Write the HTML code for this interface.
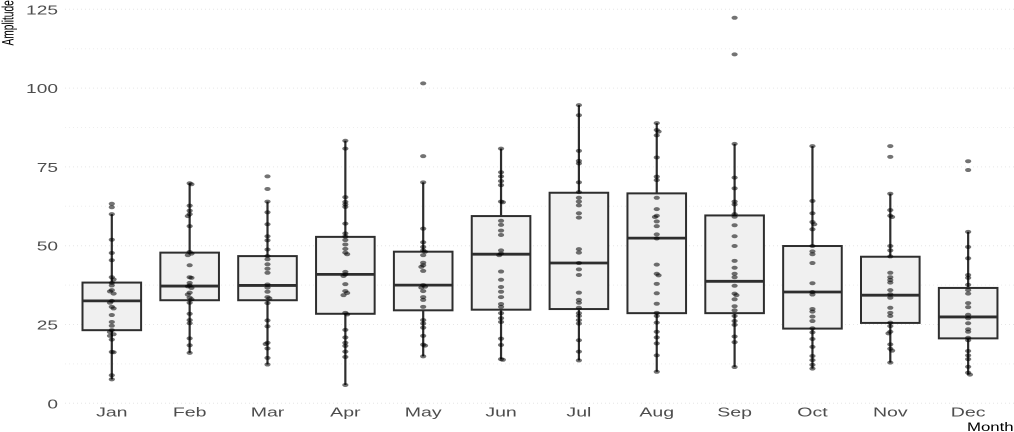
<!DOCTYPE html>
<html>
<head>
<meta charset="utf-8">
<title>Monthly Amplitude Boxplot</title>
<style>
html,body{margin:0;padding:0;background:#fff;width:1014px;height:432px;overflow:hidden}
svg{display:block;filter:blur(0.3px)}
text{font-family:"Liberation Sans",sans-serif}
</style>
</head>
<body>
<svg id="chart" width="1014" height="432" viewBox="0 0 1014 432" xmlns="http://www.w3.org/2000/svg">
<g id="grid"></g>
<g id="yticks"></g>
<g id="xticks"></g>
<g id="boxes"></g>
<g id="points"></g>
<text transform="translate(13.5,45.5) rotate(-90) scale(0.6,1)" font-size="17" fill="#000">Amplitude</text>
<text transform="translate(967,431) scale(1.4,1)" font-size="12" fill="#000">Month</text>
</svg>
<script>
const months = ["Jan","Feb","Mar","Apr","May","Jun","Jul","Aug","Sep","Oct","Nov","Dec"];
const yTicks = [0,25,50,75,100,125];
const yMinorTicks = [12.5,37.5,62.5,87.5,112.5];
const q1 = [23.2,32.7,32.7,28.4,29.5,29.7,29.9,28.6,28.6,23.7,25.5,20.6];
const medians = [32.5,37.2,37.4,40.9,37.5,47.3,44.5,52.4,38.7,35.3,34.3,27.4];
const q3 = [38.3,47.8,46.7,52.8,48.1,59.4,66.8,66.6,59.6,49.9,46.5,36.6];
const whiskerLow = [7.6,16,12.3,5.8,14.9,14,13.6,10,11.5,11,12.9,9.1];
const whiskerHigh = [60,69.8,64,83.3,70.1,80.8,94.6,88.9,82.3,81.6,66.5,54.4];
const janValues = [63.3,62.2,60,51.9,47.7,45.4,40,39.3,38.2,37.4,35.9,35.5,34.8,32.5,31.9,30.6,30.1,28,25.8,24.6,23.2,22.6,21.9,21.4,20.2,16.3,16.2,8.9,7.6];
const febValues = [69.8,69.5,62.7,61.1,60,59.4,56.2,48,47.5,47,43.8,40,39.8,38.2,37.4,37.1,36.6,35.1,34.5,33.5,33,31.9,28.4,26.4,25.4,20.6,18.4,16];
const marValues = [72,68,64,60.6,56.8,53,51.7,48.8,46.7,45.7,44.1,42.7,41.4,37.7,36.7,35.4,33.7,33.3,31.8,26.3,24.4,19.2,18.8,17.4,14.4,12.3];
const aprValues = [83.3,80.8,65.4,63.9,63.1,62.3,57,53.9,52.9,51.8,50.4,49,47.8,47.3,41.7,40.9,40.4,37.8,35.6,35,34.3,28.7,28.2,23.3,20.9,19.2,18.2,16.4,14.7,5.8];
const mayValues = [101.5,78.4,70.1,55.4,51.1,49.6,48.5,48.1,47,44.6,43.8,43.3,42,37.5,37,36.7,35.6,33.7,32.8,30.6,26.4,25.3,24,21.4,18.6,18.3,14.9];
const junValues = [80.8,73.3,72,70.5,69.2,64,63.8,57.9,56.6,54.8,53.4,48.5,47.5,47,41.8,39.2,36.9,35.4,33.7,31.5,30.6,28.6,27,25.8,20.5,18.5,14,13.8];
const julValues = [94.6,91.4,80.1,76.9,76.1,70.1,67,65.2,64,62.8,60.3,58.9,48.9,47.8,44.5,42.5,40.7,35.1,32.8,31.9,30.3,28.6,27.7,26.4,25.3,20,16.4,13.6];
const augValues = [88.9,86.7,86.2,85,78,71.9,70.8,65.2,61.6,59.5,59.1,57.7,56.2,53.6,52.3,44,41.1,40.6,37.9,34.9,31.6,28.7,27.7,25.6,22.7,20.9,19,15.2,10];
const sepValues = [122.3,110.7,82.3,71.6,68.2,64,63.1,60,59.2,56.5,53,49.9,45.2,43,41.1,40,37.3,34.8,34.3,33,30.8,29.5,27.7,26.1,24.9,21.2,19.4,11.5];
const octValues = [81.6,64.2,60.3,57.5,56.8,55.2,49.9,48.2,47.3,44.5,38.1,35.3,34.5,29.9,29.1,27.5,26.1,23.8,22.5,20.4,17.9,15,13.7,12.2,11];
const novValues = [81.6,78.2,66.5,61.3,59.5,59.1,49.9,48.5,46.6,41.4,40,39.1,38.3,35.9,34.6,33.5,30.3,28.7,27.7,25.6,24.5,22.7,22.2,18.7,17.3,16.7,12.9];
const decValues = [76.8,74,54.4,49.6,46,40.7,39.8,37.6,35.9,34.8,31.8,30.5,28.1,27,25.4,23.5,22.7,20.8,20,16.6,15.2,14,11.6,9.7,9.1];
const monthValues = [janValues,febValues,marValues,aprValues,mayValues,junValues,julValues,augValues,sepValues,octValues,novValues,decValues];

const NS = "http://www.w3.org/2000/svg";
const xScale = i => 111.8 + 77.85 * i;
const yScale = v => 403.3 - 3.152 * v;
const BOX_HALF = 29.3;
const DARK = "#2e2e2e";

function make(parent, tag, attrs, text) {
  const el = document.createElementNS(NS, tag);
  for (const k in attrs) el.setAttribute(k, attrs[k]);
  if (text !== undefined) el.textContent = text;
  parent.appendChild(el);
  return el;
}

const grid = document.getElementById("grid");
yMinorTicks.forEach(t => {
  const line = make(grid, "line", {x1:65, x2:1014, y1:yScale(t), y2:yScale(t), stroke:"#eeeeee", "stroke-width":1, "stroke-dasharray":"1 3"});
  
  
});
yTicks.forEach(t => {
  const line = make(grid, "line", {x1:65, x2:1014, y1:yScale(t), y2:yScale(t), stroke:"#e6e6e6", "stroke-width":1, "stroke-dasharray":"1 3"});
  
  
});

const yt = document.getElementById("yticks");
yTicks.forEach(t => {
  const label = make(yt, "text", {transform:`translate(58,${yScale(t)+5}) scale(1.45,1)`, "text-anchor":"end", "font-size":13.2, fill:"#4d4d4d"}, t);
  
  
});

const xt = document.getElementById("xticks");
months.forEach((m, i) => {
  const label = make(xt, "text", {transform:`translate(${xScale(i)},416.7) scale(1.48,1)`, "text-anchor":"middle", "font-size":13.2, fill:"#4d4d4d"}, m);
  
  
});

const boxes = document.getElementById("boxes");
months.forEach((m, i) => {
  const g = make(boxes, "g", {});
  
  
  const x = xScale(i);
  const upper = make(g, "line", {x1:x, x2:x, y1:yScale(q3[i]), y2:yScale(whiskerHigh[i]), stroke:DARK, "stroke-width":2.2});
  
  
  const lower = make(g, "line", {x1:x, x2:x, y1:yScale(q1[i]), y2:yScale(whiskerLow[i]), stroke:DARK, "stroke-width":2.2});
  
  
  const rect = make(g, "rect", {x:x-BOX_HALF, y:yScale(q3[i]), width:BOX_HALF*2, height:yScale(q1[i])-yScale(q3[i]), fill:"#f0f0f0", stroke:DARK, "stroke-width":2});
  
  
  const med = make(g, "line", {x1:x-BOX_HALF, x2:x+BOX_HALF, y1:yScale(medians[i]), y2:yScale(medians[i]), stroke:DARK, "stroke-width":2.8});
  
  
});

const pts = document.getElementById("points");
monthValues.forEach((vals, i) => {
  let prevY = null, side = 1;
  vals.forEach(v => {
    const cy = yScale(v);
    let dx = 0;
    if (prevY !== null && Math.abs(cy - prevY) < 2.5) { dx = 1.8 * side; side = -side; }
    prevY = cy;
    const dot = make(pts, "ellipse", {cx:xScale(i)+dx, cy:cy, rx:3.1, ry:2, fill:"#000", "fill-opacity":0.55});
    
    
  });
});
</script>
</body>
</html>
